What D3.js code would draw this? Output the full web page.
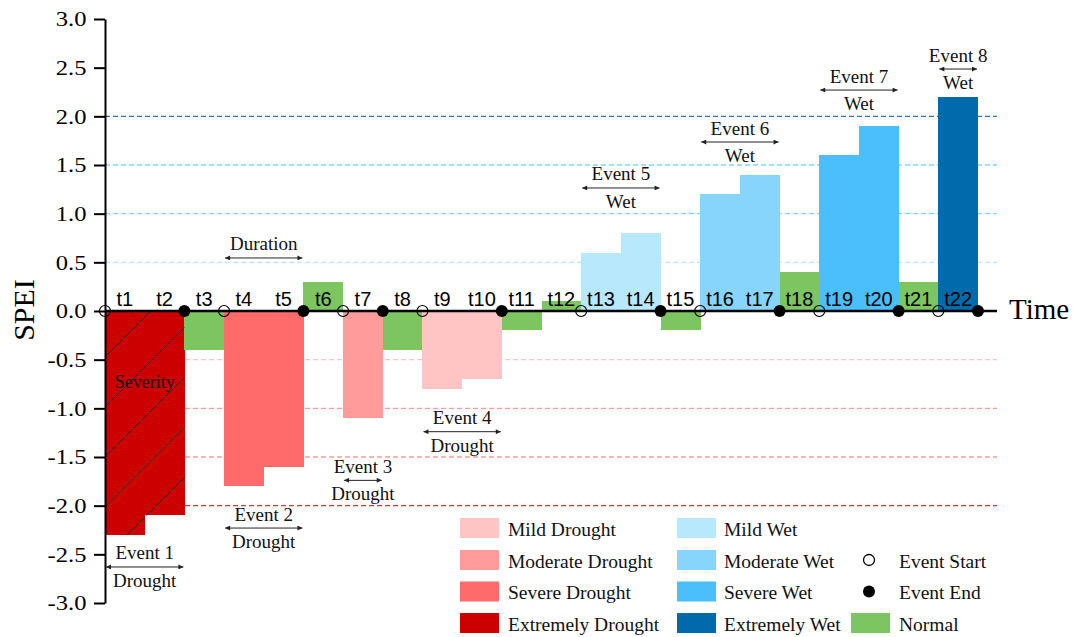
<!DOCTYPE html>
<html>
<head>
<meta charset="utf-8">
<script src="https://cdn.jsdelivr.net/npm/d3@7"></script>
<style>
  html, body { margin: 0; padding: 0; background: #fff; }
  svg { display: block; }
</style>
</head>
<body>
<svg id="chart" width="1077" height="637"></svg>
<script>
// ---------------- DATA ----------------
const periods = ["t1","t2","t3","t4","t5","t6","t7","t8","t9","t10","t11",
                 "t12","t13","t14","t15","t16","t17","t18","t19","t20","t21","t22"];
const speiValues = [-2.3,-2.1,-0.4,-1.8,-1.6,0.3,-1.1,-0.4,-0.8,-0.7,-0.2,
                    0.1,0.6,0.8,-0.2,1.2,1.4,0.4,1.6,1.9,0.3,2.2];
const yTicks = [3.0,2.5,2.0,1.5,1.0,0.5,0.0,-0.5,-1.0,-1.5,-2.0,-2.5,-3.0];
const gridLevels = [2.0,1.5,1.0,0.5,-0.5,-1.0,-1.5,-2.0];
const classThresholds = [-2.0,-1.5,-1.0,-0.5,0.5,1.0,1.5,2.0];
const classNames = ["Extremely Drought","Severe Drought","Moderate Drought","Mild Drought",
                    "Normal","Mild Wet","Moderate Wet","Severe Wet","Extremely Wet"];
const eventNames = ["Event 1","Event 2","Event 3","Event 4","Event 5","Event 6","Event 7","Event 8"];
const eventTypes = ["Drought","Drought","Drought","Drought","Wet","Wet","Wet","Wet"];
const eventStarts = ["t1","t4","t7","t9","t13","t16","t19","t22"];
const eventEnds   = ["t2","t5","t7","t10","t14","t17","t20","t22"];
const legendCol1 = ["Mild Drought","Moderate Drought","Severe Drought","Extremely Drought"];
const legendCol2 = ["Mild Wet","Moderate Wet","Severe Wet","Extremely Wet"];

// ---------------- STYLE / LAYOUT ----------------
const classColors = ["#CC0000","#FF6B6B","#FF9B9B","#FFC5C5","#7DC561",
                     "#B8E8FC","#87D5FC","#4BBEFC","#006BAC"];
const gridColors = {"2":"#2F6FC0","1.5":"#4BBEFC","1":"#87D5FC","0.5":"#B8E8FC",
                    "-0.5":"#FFC5C5","-1":"#FF9B9B","-1.5":"#FF6B6B","-2":"#E03535"};
// arrow level of each event annotation in SPEI units
const eventArrowLevels = [-2.63,-2.23,-1.74,-1.24,1.264,1.736,2.27,2.486];

const SERIF = "'Liberation Serif','Times New Roman',Times,serif";
const SANS = "'Liberation Sans',Arial,Helvetica,sans-serif";

const svg = d3.select("#chart");
const plotLeft = 105, plotRight = 978, plotTop = 19, plotBottom = 603, axisEnd = 997;

const x = d3.scaleBand().domain(periods).range([plotLeft, plotRight]).padding(0);
const y = d3.scaleLinear().domain([-3, 3]).range([plotBottom, plotTop]);
const colorScale = d3.scaleThreshold().domain(classThresholds).range(classColors);
const colorByName = d3.scaleOrdinal().domain(classNames).range(classColors);

const defs = svg.append("defs");
// hatch pattern for severity
const pat = defs.append("pattern")
  .attr("id", "hatch")
  .attr("patternUnits", "userSpaceOnUse")
  .attr("width", 50).attr("height", 50)
  .attr("x", 12).attr("y", 0);
pat.append("path")
  .attr("d", "M-5,5 L5,-5 M0,50 L50,0 M45,55 L55,45")
  .attr("stroke", "#222").attr("stroke-width", 1);

// arrow markers
["start","end"].forEach(k => {
  defs.append("marker")
    .attr("id", "arrow-" + k)
    .attr("viewBox", "0 0 10 10")
    .attr("refX", k === "end" ? 10 : 0).attr("refY", 5)
    .attr("markerUnits", "userSpaceOnUse")
    .attr("markerWidth", 7).attr("markerHeight", 5)
    .attr("orient", "auto")
    .append("path")
    .attr("d", k === "end" ? "M0,0 L10,5 L0,10 Z" : "M10,0 L0,5 L10,10 Z")
    .attr("fill", "#222");
});

// gridlines
svg.append("g").selectAll("line")
  .data(gridLevels).join("line")
  .attr("x1", plotLeft).attr("x2", axisEnd)
  .attr("y1", d => y(d)).attr("y2", d => y(d))
  .attr("stroke", d => gridColors[String(d)])
  .attr("stroke-width", 1.2)
  .attr("stroke-dasharray", "5,3");

// bars
const barData = periods.map((p, i) => ({p, v: speiValues[i]}));
svg.append("g").selectAll("rect")
  .data(barData).join("rect")
  .attr("x", d => x(d.p))
  .attr("width", x.bandwidth() + 0.3)
  .attr("y", d => Math.min(y(d.v), y(0)))
  .attr("height", d => Math.abs(y(d.v) - y(0)))
  .attr("fill", d => colorScale(d.v))
  .attr("shape-rendering", "crispEdges");

// hatch on Event 1 bars
const e1 = barData.filter(d => d.p === eventStarts[0] || d.p === eventEnds[0]);
svg.append("g").selectAll("rect")
  .data(e1).join("rect")
  .attr("x", d => x(d.p))
  .attr("width", x.bandwidth())
  .attr("y", y(0))
  .attr("height", d => y(d.v) - y(0))
  .attr("fill", "url(#hatch)");

svg.append("text")
  .attr("x", (x(eventStarts[0]) + x(eventEnds[0]) + x.bandwidth()) / 2)
  .attr("y", 388)
  .attr("text-anchor", "middle")
  .attr("font-family", SERIF).attr("font-size", 18)
  .attr("fill", "#111")
  .text("Severity");

// zero line (time axis)
svg.append("line")
  .attr("x1", plotLeft).attr("x2", axisEnd)
  .attr("y1", y(0)).attr("y2", y(0))
  .attr("stroke", "#000").attr("stroke-width", 2.5);

svg.append("text")
  .attr("x", 1009).attr("y", y(0) + 8)
  .attr("font-family", SERIF).attr("font-size", 29)
  .attr("fill", "#000")
  .text("Time");

// y axis
const yAxis = d3.axisLeft(y).tickValues(yTicks).tickSize(11).tickSizeOuter(0)
  .tickFormat(d3.format(".1f"));
const gy = svg.append("g").attr("transform", `translate(${plotLeft},0)`).call(yAxis);
gy.select(".domain").attr("stroke", "#000").attr("stroke-width", 2);
gy.selectAll(".tick line").attr("stroke", "#000").attr("stroke-width", 2);
gy.selectAll(".tick text")
  .attr("font-family", SERIF).attr("font-size", 21)
  .attr("fill", "#000")
  .attr("x", -18.5 / 1.17)
  .attr("transform", "scale(1.17,1)")
  .text(d => d3.format(".1f")(d).replace("\u2212", "-"));

svg.append("text")
  .attr("transform", `translate(34,${310}) rotate(-90)`)
  .attr("text-anchor", "middle")
  .attr("font-family", SERIF).attr("font-size", 30)
  .attr("fill", "#000")
  .text("SPEI");

// period labels
svg.append("g").selectAll("text")
  .data(periods).join("text")
  .attr("x", d => x(d) + x.bandwidth() / 2)
  .attr("y", y(0) - 5)
  .attr("text-anchor", "middle")
  .attr("font-family", SANS).attr("font-size", 20)
  .attr("fill", "#000")
  .text(d => d);

// event start / end markers
const evs = eventNames.map((n, i) => ({
  name: n, type: eventTypes[i],
  x0: x(eventStarts[i]), x1: x(eventEnds[i]) + x.bandwidth(),
  level: eventArrowLevels[i]
}));
svg.append("g").selectAll("circle")
  .data(evs).join("circle")
  .attr("cx", d => d.x0).attr("cy", y(0)).attr("r", 5.5)
  .attr("fill", "none").attr("stroke", "#000").attr("stroke-width", 1.2);
svg.append("g").selectAll("circle")
  .data(evs).join("circle")
  .attr("cx", d => d.x1).attr("cy", y(0)).attr("r", 6)
  .attr("fill", "#000");

// event annotations
const ann = svg.append("g");
evs.forEach(d => {
  const ay = y(d.level);
  ann.append("line")
    .attr("x1", d.x0 + 1).attr("x2", d.x1 - 1)
    .attr("y1", ay).attr("y2", ay)
    .attr("stroke", "#222").attr("stroke-width", 1)
    .attr("marker-start", "url(#arrow-start)")
    .attr("marker-end", "url(#arrow-end)");
  const cx = (d.x0 + d.x1) / 2;
  ann.append("text").attr("x", cx).attr("y", ay - 7.5)
    .attr("text-anchor", "middle").attr("font-family", SERIF).attr("font-size", 19)
    .attr("fill", "#111").text(d.name);
  ann.append("text").attr("x", cx).attr("y", ay + 20)
    .attr("text-anchor", "middle").attr("font-family", SERIF).attr("font-size", 19)
    .attr("fill", "#111").text(d.type);
});

// duration annotation (over Event 2)
{
  const ay = y(0.545);
  const x0 = x(eventStarts[1]) + 1, x1 = x(eventEnds[1]) + x.bandwidth() - 1;
  ann.append("line")
    .attr("x1", x0).attr("x2", x1).attr("y1", ay).attr("y2", ay)
    .attr("stroke", "#222").attr("stroke-width", 1)
    .attr("marker-start", "url(#arrow-start)")
    .attr("marker-end", "url(#arrow-end)");
  ann.append("text").attr("x", (x0 + x1) / 2).attr("y", ay - 8)
    .attr("text-anchor", "middle").attr("font-family", SERIF).attr("font-size", 19)
    .attr("fill", "#111").text("Duration");
}

// legend
const leg = svg.append("g");
const rowY = [528, 560, 591.5, 623];
const swW = 39, swH = 20;
function legendText(tx, ty, label) {
  leg.append("text")
    .attr("x", tx).attr("y", ty + 7.5)
    .attr("font-family", SERIF).attr("font-size", 19.5)
    .attr("fill", "#111").text(label);
}
legendCol1.forEach((lab, i) => {
  leg.append("rect").attr("x", 460).attr("y", rowY[i] - swH / 2)
    .attr("width", swW).attr("height", swH).attr("fill", colorByName(lab));
  legendText(508, rowY[i], lab);
});
legendCol2.forEach((lab, i) => {
  leg.append("rect").attr("x", 677).attr("y", rowY[i] - swH / 2)
    .attr("width", swW).attr("height", swH).attr("fill", colorByName(lab));
  legendText(724, rowY[i], lab);
});
leg.append("circle").attr("cx", 869).attr("cy", rowY[1]).attr("r", 5.5)
  .attr("fill", "none").attr("stroke", "#000").attr("stroke-width", 1.3);
legendText(899, rowY[1], "Event Start");
leg.append("circle").attr("cx", 869).attr("cy", rowY[2]).attr("r", 6)
  .attr("fill", "#000");
legendText(899, rowY[2], "Event End");
leg.append("rect").attr("x", 851).attr("y", rowY[3] - swH / 2)
  .attr("width", swW).attr("height", swH).attr("fill", colorByName("Normal"));
legendText(899, rowY[3], "Normal");
</script>
</body>
</html>
